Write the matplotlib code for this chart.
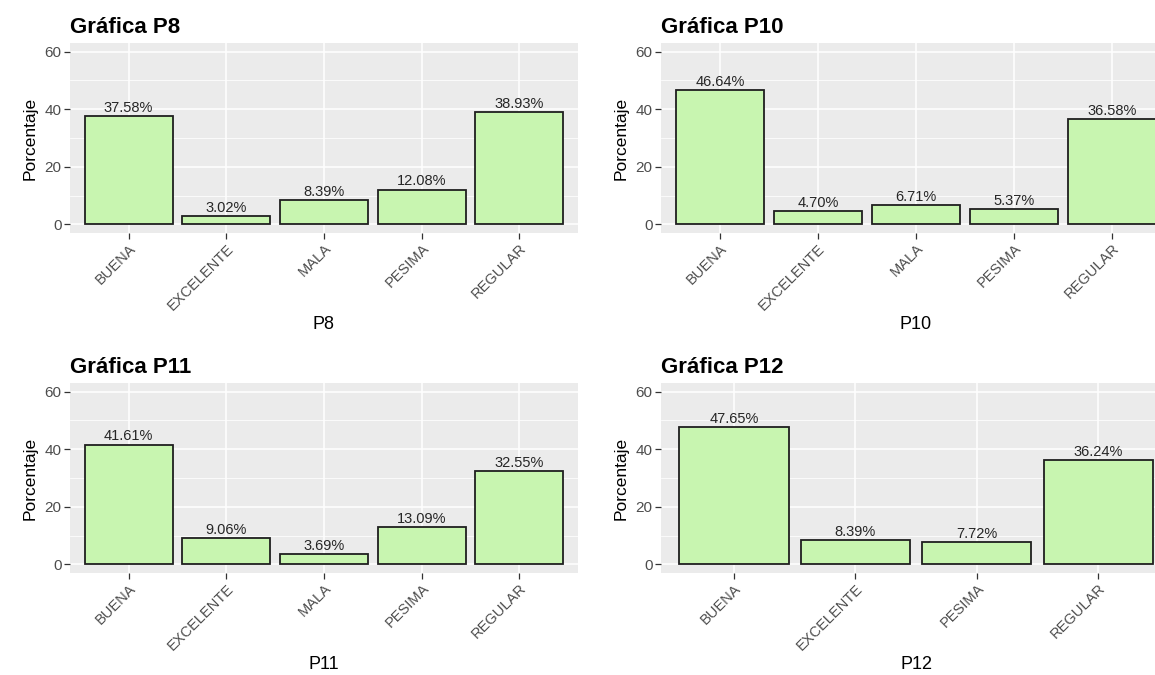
import matplotlib
matplotlib.use('Agg')
import matplotlib.pyplot as plt
from matplotlib.ticker import MultipleLocator

plt.rcParams['font.family'] = ['Liberation Sans', 'DejaVu Sans']

# Datos de cada gráfica
cat_p8 = ['BUENA', 'EXCELENTE', 'MALA', 'PESIMA', 'REGULAR']
val_p8 = [37.58, 3.02, 8.39, 12.08, 38.93]

cat_p10 = ['BUENA', 'EXCELENTE', 'MALA', 'PESIMA', 'REGULAR']
val_p10 = [46.64, 4.70, 6.71, 5.37, 36.58]

cat_p11 = ['BUENA', 'EXCELENTE', 'MALA', 'PESIMA', 'REGULAR']
val_p11 = [41.61, 9.06, 3.69, 13.09, 32.55]

cat_p12 = ['BUENA', 'EXCELENTE', 'PESIMA', 'REGULAR']
val_p12 = [47.65, 8.39, 7.72, 36.24]

W, H = 1155, 675
fig = plt.figure(figsize=(W / 100, H / 100), dpi=100)
fig.patch.set_facecolor('white')


def panel(left, top, right, bottom, cats, vals, nombre):
    # posiciones en pixeles -> fracciones de la figura
    ax = fig.add_axes([left / W, 1 - bottom / H, (right - left) / W, (bottom - top) / H])
    ax.set_facecolor('#EBEBEB')
    x = list(range(len(cats)))
    ax.bar(x, vals, width=0.9, color='#C8F5B0', edgecolor='#1F1F1F', linewidth=1.3, zorder=3)
    for xi, v in zip(x, vals):
        ax.annotate(f'{v:.2f}%', (xi, v), xytext=(0, 0.8), textcoords='offset points',
                    ha='center', va='bottom', fontsize=10.5, color='#262626', zorder=4)
    ax.set_xlim(-0.6, len(cats) - 0.4)
    ax.set_ylim(-3, 63)
    ax.yaxis.set_major_locator(MultipleLocator(20))
    ax.yaxis.set_minor_locator(MultipleLocator(10))
    ax.set_xticks(x)
    ax.set_xticklabels(cats, rotation=45, ha='right', va='top', rotation_mode='anchor')
    ax.grid(which='major', color='white', linewidth=1.1, zorder=0)
    ax.grid(which='minor', axis='y', color='white', linewidth=0.55, zorder=0)
    ax.set_axisbelow(True)
    for s in ax.spines.values():
        s.set_visible(False)
    ax.tick_params(which='major', length=4, color='#333333', labelcolor='#4D4D4D',
                   labelsize=10.5, width=0.9, pad=2)
    ax.tick_params(axis='y', labelsize=11)
    ax.tick_params(which='minor', length=0)
    ax.set_ylabel('Porcentaje', fontsize=12.5, color='black', labelpad=5)
    ax.set_xlabel(nombre, fontsize=13, color='black', labelpad=2)
    ax.set_title('Gráfica ' + nombre, loc='left', fontsize=16, fontweight='bold', pad=7)
    return ax


panel(70, 43, 578, 233, cat_p8, val_p8, 'P8')
panel(661, 43, 1171, 233, cat_p10, val_p10, 'P10')
panel(70, 383, 578, 573, cat_p11, val_p11, 'P11')
panel(661, 383, 1171, 573, cat_p12, val_p12, 'P12')

fig.savefig('out.png', dpi=100)
